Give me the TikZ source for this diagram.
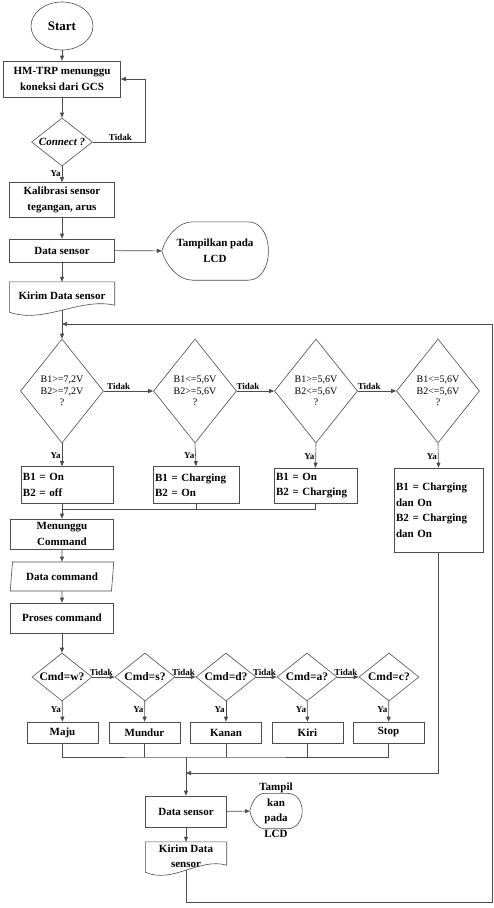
\documentclass[tikz,border=0pt]{standalone}
\usepackage{fontspec}
\setmainfont{Liberation Serif}
\usetikzlibrary{shapes.geometric,arrows.meta}

\begin{document}
\begin{tikzpicture}[x=1pt, y=-1pt, >={Triangle[length=5pt,width=4pt]},
    flow/.style={draw=black!70, line width=0.6pt},
    proc/.style={draw=black!70, line width=0.6pt, rectangle, align=center, inner sep=1pt, font=\bfseries\fontsize{11}{16}\selectfont},
    stat/.style={draw=black!70, line width=0.6pt, rectangle, align=left, inner sep=2pt, font=\bfseries\fontsize{11}{15.5}\selectfont},
    cond/.style={draw=black!70, line width=0.6pt, diamond, align=center, inner sep=0pt, minimum width=83pt, minimum height=104pt, font=\fontsize{10}{11.5}\selectfont},
    cmd/.style={draw=black!70, line width=0.6pt, diamond, inner sep=0pt, minimum width=60pt, minimum height=48pt, font=\bfseries\fontsize{11.5}{13}\selectfont},
    act/.style={proc, minimum width=71pt, minimum height=21pt},
    lbl/.style={font=\bfseries\fontsize{9}{10}\selectfont, inner sep=1pt},
    shp/.style={inner sep=0pt, align=center, font=\bfseries\fontsize{11}{16}\selectfont}]
  \useasboundingbox (0,0) rectangle (494,908);

  % Top part
  \node[draw=black!70, line width=0.6pt, ellipse, minimum width=62pt, minimum height=48pt, font=\bfseries\fontsize{13}{15}\selectfont] (start) at (62,26) {Start};
  \node[proc, minimum width=117pt, minimum height=36pt] (wait) at (62,79) {HM-TRP menunggu\\koneksi dari GCS};
  \node[cmd, minimum width=61pt, font=\bfseries\itshape\fontsize{11}{13}\selectfont] (conn) at (62,142) {\makebox[20pt]{Connect ?}};
  \node[proc, minimum width=105pt, minimum height=35pt] (kal) at (62,200) {Kalibrasi sensor\\tegangan, arus};
  \node[proc, minimum width=105pt, minimum height=23pt] (ds1) at (62,250.5) {Data sensor};
  \node[shp, minimum width=106pt, minimum height=58pt] (lcd1) at (215,251) {Tampilkan pada\\LCD};
  \node[shp, minimum width=105pt, minimum height=28pt] (kirim1) at (62,296) {Kirim Data sensor};
  \coordinate (loopin) at (62,324);

  % display and document outlines
  \draw[flow] (lcd1.west) .. controls ([shift={(4pt,14pt)}]lcd1.west) and ([xshift=16pt]lcd1.north west) .. ([xshift=31pt]lcd1.north west)
    -- ([xshift=-20pt]lcd1.north east) .. controls ([xshift=7pt]lcd1.north east) and ([xshift=7pt]lcd1.south east) .. ([xshift=-20pt]lcd1.south east)
    -- ([xshift=31pt]lcd1.south west) .. controls ([xshift=16pt]lcd1.south west) and ([shift={(4pt,-14pt)}]lcd1.west) .. (lcd1.west);
  \draw[flow] (kirim1.north west) -- (kirim1.north east) -- ([yshift=5pt]kirim1.south east)
    .. controls +(-35,-8) and +(35,12) .. ([yshift=-2pt]kirim1.south west) -- cycle;

  % Battery checks
  \node[cond] (d1) at (62,391) {B1>=7,2V\\B2>=7,2V\\?};
  \node[cond] (d2) at (195,391) {B1<=5,6V\\B2>=5,6V\\?};
  \node[cond] (d3) at (316,391) {B1>=5,6V\\B2<=5,6V\\?};
  \node[cond] (d4) at (438,391) {B1<=5,6V\\B2<=5,6V\\?};
  \node[stat, text width=88pt, minimum height=37pt] (b1) at (67,485) {B1 = On\\B2 = off};
  \node[stat, text width=82pt, minimum height=37pt] (b2) at (196,485) {B1 = Charging\\B2 = On};
  \node[stat, text width=79pt, minimum height=35pt] (b3) at (315.5,485.5) {B1 = On\\B2 = Charging};
  \node[stat, text width=85pt, minimum height=84pt] (b4) at (438.5,510) {B1 = Charging\\dan On\\B2 = Charging\\dan On};
  \coordinate (join1) at (62,509);

  % Command part
  \node[proc, minimum width=103pt, minimum height=30pt] (menu) at (62,534) {Menunggu\\Command};
  \node[draw=black!70, line width=0.6pt, trapezium, trapezium left angle=80, trapezium right angle=100, trapezium stretches=true,
    minimum width=104pt, minimum height=29pt, inner sep=1pt, font=\bfseries\fontsize{11}{16}\selectfont] (dcmd) at (62,576.5) {Data command};
  \node[proc, minimum width=103pt, minimum height=30pt] (proc) at (62,618) {Proses command};

  \node[cmd] (c1) at (62,677) {\makebox[20pt]{Cmd=w?}};
  \node[cmd] (c2) at (145,677) {\makebox[20pt]{Cmd=s?}};
  \node[cmd] (c3) at (226,677) {\makebox[20pt]{Cmd=d?}};
  \node[cmd] (c4) at (307,677) {\makebox[20pt]{Cmd=a?}};
  \node[cmd] (c5) at (389,677) {\makebox[20pt]{Cmd=c?}};
  \node[act] (maju) at (62.5,732.5) {Maju};
  \node[act] (mundur) at (144.5,732.5) {Mundur};
  \node[act] (kanan) at (226,732.5) {Kanan};
  \node[act] (kiri) at (307.5,732.5) {Kiri};
  \node[act] (stop) at (388.5,732.5) {Stop};
  \coordinate (join2) at (186,757);
  \coordinate (mid) at (186,773);

  % Bottom part
  \node[proc, minimum width=81pt, minimum height=31pt] (ds2) at (186,811.5) {Data sensor};
  \node[minimum width=52pt, minimum height=35pt, inner sep=0pt] (lcd2) at (276,811) {};
  \node[shp, font=\bfseries\fontsize{11}{15.5}\selectfont] (lcd2txt) at (276,810) {Tampil\\kan\\pada\\LCD};
  \node[shp, minimum width=81pt, minimum height=28pt, font=\bfseries\fontsize{11}{15}\selectfont] (kirim2) at (186,856) {Kirim Data\\sensor};
  \draw[flow] (lcd2.west) .. controls ([shift={(2pt,9pt)}]lcd2.west) and ([xshift=7pt]lcd2.north west) .. ([xshift=15pt]lcd2.north west)
    -- ([xshift=-15pt]lcd2.north east) .. controls ([xshift=5pt]lcd2.north east) and ([xshift=5pt]lcd2.south east) .. ([xshift=-15pt]lcd2.south east)
    -- ([xshift=15pt]lcd2.south west) .. controls ([xshift=7pt]lcd2.south west) and ([shift={(2pt,-9pt)}]lcd2.west) .. (lcd2.west);
  \draw[flow] (kirim2.north west) -- (kirim2.north east) -- ([yshift=5pt]kirim2.south east)
    .. controls +(-27,-8) and +(27,12) .. ([yshift=-2pt]kirim2.south west) -- cycle;

  % Connectors
  \draw[flow,->] (start) -- (wait);
  \draw[flow,->] (wait) -- (conn);
  \draw[flow,->] (conn.east) -- node[lbl, above, pos=0.53] {Tidak} ++(52,0) |- (wait.east);
  \draw[flow,->] (conn.south) -- node[lbl, left, pos=0.45] {Ya} (kal.north);
  \draw[flow,->] (kal) -- (ds1);
  \draw[flow,->] (ds1) -- (lcd1);
  \draw[flow,->] (ds1) -- (kirim1);
  \draw[flow,->] (kirim1.south) -- (d1.north);

  \draw[flow,->] (d1.east) -- node[lbl, above, pos=0.3] {Tidak} (d2.west);
  \draw[flow,->] (d2.east) -- node[lbl, above, pos=0.3] {Tidak} (d3.west);
  \draw[flow,->] (d3.east) -- node[lbl, above, pos=0.3] {Tidak} (d4.west);
  \draw[flow,->] (d1.south) -- node[lbl, left, pos=0.55] {Ya} (d1.south |- b1.north);
  \draw[flow,->] (d2.south) -- node[lbl, left, pos=0.55] {Ya} (b2.north);
  \draw[flow,->] (d3.south) -- node[lbl, left, pos=0.55] {Ya} (b3.north);
  \draw[flow,->] (d4.south) -- node[lbl, left, pos=0.55] {Ya} (b4.north);
  \draw[flow] (b3.south) |- (join1);
  \draw[flow] (b2.south) -- (b2.south |- join1);
  \draw[flow,->] (menu.north |- b1.south) -- (menu.north);
  \draw[flow,->] (b4.south) |- (mid);

  \draw[flow,->] (menu) -- (dcmd);
  \draw[flow,->] (dcmd) -- (proc);
  \draw[flow,->] (proc) -- (c1);
  \draw[flow,->] (c1.east) -- node[lbl, above, pos=0.4] {Tidak} (c2.west);
  \draw[flow,->] (c2.east) -- node[lbl, above, pos=0.4] {Tidak} (c3.west);
  \draw[flow,->] (c3.east) -- node[lbl, above, pos=0.4] {Tidak} (c4.west);
  \draw[flow,->] (c4.east) -- node[lbl, above, pos=0.4] {Tidak} (c5.west);
  \draw[flow,->] (c1) -- node[lbl, left, pos=0.4] {Ya} (maju);
  \draw[flow,->] (c2) -- node[lbl, left, pos=0.4] {Ya} (mundur);
  \draw[flow,->] (c3) -- node[lbl, left, pos=0.4] {Ya} (kanan);
  \draw[flow,->] (c4) -- node[lbl, left, pos=0.4] {Ya} (kiri);
  \draw[flow,->] (c5) -- node[lbl, left, pos=0.4] {Ya} (stop);
  \draw[flow] (maju.south) |- (join2) -| (stop.south);
  \draw[flow] (mundur.south) -- (mundur.south |- join2);
  \draw[flow] (kanan.south) -- (kanan.south |- join2);
  \draw[flow] (kiri.south) -- (kiri.south |- join2);
  \draw[flow,->] (join2) -- (ds2.north);
  \draw[flow,->] (ds2) -- (lcd2);
  \draw[flow,->] (ds2) -- (kirim2);
  \draw[flow,->] (kirim2.south) -- ++(0,32) -| ([xshift=430pt]loopin) -- (loopin);
\end{tikzpicture}
\end{document}
